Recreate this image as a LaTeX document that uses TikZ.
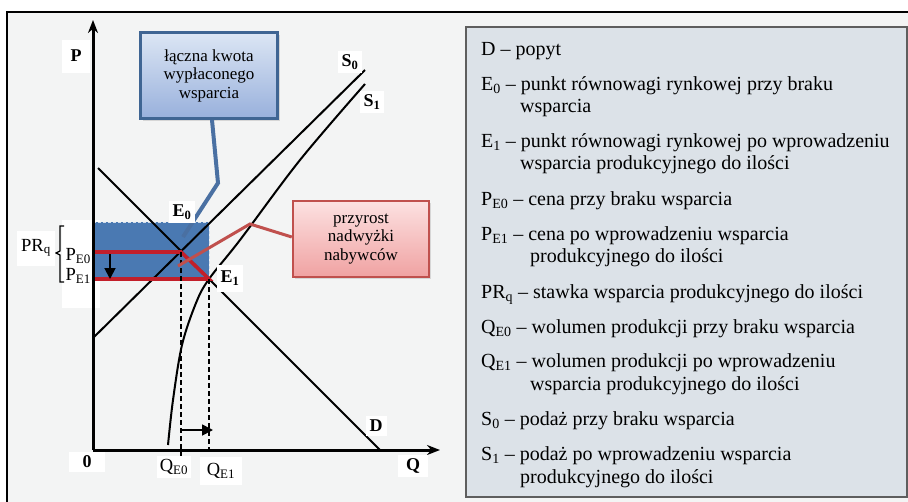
\documentclass[tikz,border=0pt]{standalone}
\usepackage{fontspec}
\setmainfont{Liberation Serif}
\usetikzlibrary{arrows.meta,shadows}

\definecolor{panel}{HTML}{F3F4F4}
\definecolor{legendfill}{HTML}{DCE2E8}
\definecolor{legendline}{HTML}{5E5E5E}
\definecolor{supportblue}{HTML}{4A79B2}
\definecolor{pointerblue}{HTML}{4A70A2}
\definecolor{calloutblue}{HTML}{3F6593}
\definecolor{bluetop}{HTML}{DCE6F4}
\definecolor{bluebottom}{HTML}{98B0DC}
\definecolor{calloutred}{HTML}{C0504D}
\definecolor{redtop}{HTML}{FCE1E1}
\definecolor{redbottom}{HTML}{F0A2A2}
\definecolor{pricered}{HTML}{C21F2A}

\newcommand{\ix}[1]{\textsubscript{#1}}

\begin{document}
\begin{tikzpicture}
	[
	x=1pt, y=-1pt,
	node/.style={inner sep=0pt},
	axis/.style={line width=3pt, -{Stealth[length=13pt,width=10pt]}},
	curve/.style={line width=2pt},
	guide/.style={line width=1.6pt, dash pattern=on 5pt off 3pt},
	shiftarrow/.style={line width=1.8pt, -{Triangle[length=11pt,width=11pt]}},
	pricebox/.style={line width=3.6pt, pricered},
	tag/.style={node, font=\bfseries\fontsize{18}{18}\selectfont, fill=white, inner sep=4pt},
	val/.style={node, font=\fontsize{18.5}{18.5}\selectfont, fill=white, inner sep=3pt},
	callout/.style={node, align=center, font=\fontsize{17}{18.5}\selectfont,
		drop shadow={opacity=0.25, shadow xshift=2pt, shadow yshift=-2pt}},
	item/.style={node, anchor=base west, font=\fontsize{20}{22}\selectfont},
	]
		\useasboundingbox (0,0) rectangle (908,501);
		\fill[white] (0,0) rectangle (908,501);
		
		% frame
		\filldraw[fill=panel, draw=black, line width=2.8pt] (7,12) rectangle (930,520);
		
		% legend
		\filldraw[fill=legendfill, draw=legendline, line width=1.8pt] (466,27) rectangle (907,497);
		\node[item] (lD)   at (481,  55.5) {D -- popyt};
		\node[item] (lE0)  at (481,  90) {E\ix{0} -- punkt równowagi rynkowej przy braku};
		\node[item] (lE0b) at (520, 112) {wsparcia};
		\node[item] (lE1)  at (481, 147) {E\ix{1} -- punkt równowagi rynkowej po wprowadzeniu};
		\node[item] (lE1b) at (520, 169) {wsparcia produkcyjnego do ilości};
		\node[item] (lP0)  at (481, 205) {P\ix{E0} -- cena przy braku wsparcia};
		\node[item] (lP1)  at (481, 240) {P\ix{E1} -- cena po wprowadzeniu wsparcia};
		\node[item] (lP1b) at (530, 262) {produkcyjnego do ilości};
		\node[item] (lPR)  at (481, 298) {PR\ix{q} -- stawka wsparcia produkcyjnego do ilości};
		\node[item] (lQ0)  at (481, 333) {Q\ix{E0} -- wolumen produkcji przy braku wsparcia};
		\node[item] (lQ1)  at (481, 367) {Q\ix{E1} -- wolumen produkcji po wprowadzeniu};
		\node[item] (lQ1b) at (530, 390) {wsparcia produkcyjnego do ilości};
		\node[item] (lS0)  at (481, 425) {S\ix{0} -- podaż przy braku wsparcia};
		\node[item] (lS1)  at (481, 460) {S\ix{1} -- podaż po wprowadzeniu wsparcia};
		\node[item] (lS1b) at (520, 483) {produkcyjnego do ilości};
		
		% key points
		\coordinate (o)     at ( 93, 450);
		\coordinate (ptop)  at ( 93,  20);
		\coordinate (qend)  at (440, 450);
		\coordinate (dtop)  at ( 98, 168);
		\coordinate (dbot)  at (380, 450);
		\coordinate (s0bot) at ( 93, 338);
		\coordinate (s0top) at (365,  70);
		\coordinate (e0)    at (181, 252);
		\coordinate (e1)    at (209, 279);
		\coordinate (pe0)   at ( 93, 252);
		\coordinate (pe1)   at ( 93, 279);
		\coordinate (qe0)   at (181, 458);
		\coordinate (qe1)   at (209, 450);
		
		% support area
		\fill[white] (62,220) rectangle (100,308);
		\fill[supportblue] (93,222) rectangle (e1);
		\draw[white!75!supportblue, line width=1pt, dash pattern=on 3pt off 2pt] (93,222) -- (209,222) -- (e1);
		
		% demand and supply
		\draw[curve] (dtop) -- (dbot);
		\draw[curve] (s0bot) -- (s0top);
		\draw[curve] plot[smooth, tension=0.55] coordinates
			{(168,445) (173,400) (182,345) (196,303) (e1) (240,240) (300,160) (365,84)};
		
		% price change
		\draw[pricebox] (pe0) -- (e0) -- (e1) -- (pe1);
		\draw[guide] (e0) -- (qe0);
		\draw[guide] (e1) -- (qe1);
		\coordinate (ad0) at (110, 254);
		\coordinate (ad1) at (110, 279);
		\coordinate (ar0) at (182, 430);
		\coordinate (ar1) at (213, 430);
		\foreach \from/\to in {ad0/ad1,ar0/ar1} \draw[shiftarrow] (\from) -- (\to);
		
		% axes
		\foreach \from/\to in {o/ptop,o/qend} \draw[axis] (\from) -- (\to);
		\draw[line width=1.3pt, line join=miter]
			(64,226) -- (60,226) -- (60,251) -- (56,253) -- (60,255) -- (60,282) -- (64,282);
		
		% callouts
		\node[callout, draw=calloutblue, line width=3pt, minimum width=137pt, minimum height=86pt,
			top color=bluetop, bottom color=bluebottom] (c1) at (209, 75.5)
			{łączna kwota\\wypłaconego\\wsparcia};
		\node[callout, draw=calloutred, line width=2.5pt, minimum width=136pt, minimum height=76pt,
			top color=redtop, bottom color=redbottom] (c2) at (361, 239)
			{przyrost\\nadwyżki\\nabywców};
		\coordinate (b1) at (218, 183);
		\coordinate (t1) at (183, 237);
		\coordinate (b2) at (250, 224);
		\coordinate (t2) at (178, 266);
		\draw[pointerblue, line width=4pt] ([xshift=3pt]c1.south) -- (b1) -- (t1);
		\draw[calloutred, line width=3pt] ([yshift=2pt]c2.west) -- (b2) -- (t2);
		
		% labels
		\node[tag, minimum width=28pt, minimum height=33pt] (lp) at ( 76,  56) {P};
		\node[tag] (ls0) at (350,  62) {S\ix{0}};
		\node[tag] (ls1) at (372, 102) {S\ix{1}};
		\node[tag] (le0) at (182, 212) {E\ix{0}};
		\node[tag, minimum height=27pt] (le1) at (230, 278) {E\ix{1}};
		\node[tag] (ld)  at (376, 426) {D};
		\node[tag, minimum width=36pt, minimum height=19pt] (lo) at (87, 462) {0};
		\node[tag, minimum width=30pt] (lq)  at (413, 466) {Q};
		\node[val, minimum width=32pt, minimum height=21pt] (lqe0) at (174, 467) {Q\ix{E0}};
		\node[val, minimum width=42pt, minimum height=28pt] (lqe1) at (221, 471) {Q\ix{E1}};
		\node[val, minimum width=38pt, minimum height=35pt] (lpr)  at ( 36, 248) {PR\ix{q}};
		\node[node, anchor=east, font=\fontsize{18.5}{18.5}\selectfont] (lpe0) at (91, 256) {P\ix{E0}};
		\node[node, anchor=east, font=\fontsize{18.5}{18.5}\selectfont] (lpe1) at (91, 276) {P\ix{E1}};
		
	\end{tikzpicture}
\end{document}
